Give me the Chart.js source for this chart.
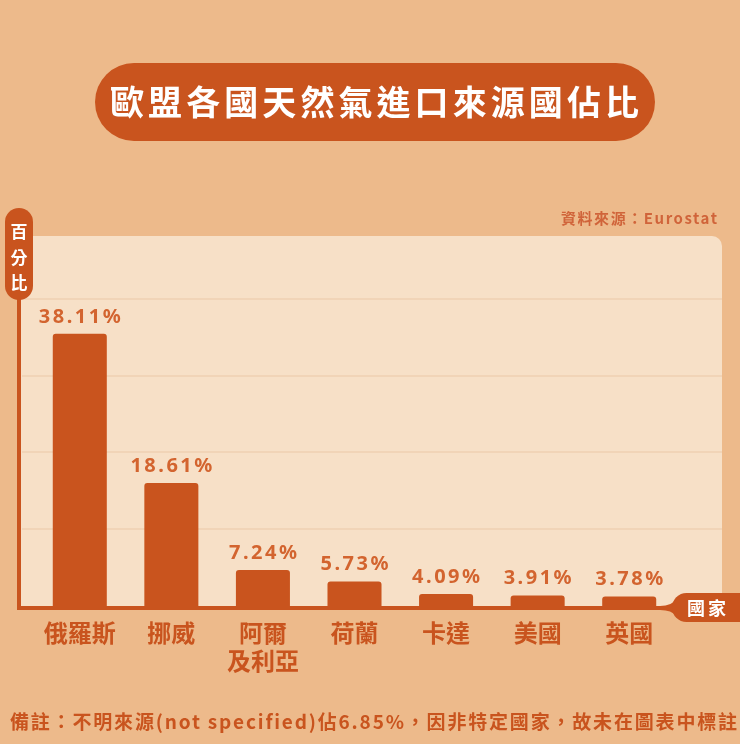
<!DOCTYPE html>
<html>
<head>
<meta charset="utf-8">
<script src="https://cdn.jsdelivr.net/npm/chart.js@4.4.1/dist/chart.umd.min.js"></script>
<style>
  html, body { margin: 0; padding: 0; background: #EDBA8B; }
  canvas { display: block; }
</style>
</head>
<body>
<canvas id="chart" width="740" height="744"></canvas>
<script>
// data
const countries = ['俄羅斯', '挪威', ['阿爾', '及利亞'], '荷蘭', '卡達', '美國', '英國'];
const shares = [38.11, 18.61, 7.24, 5.73, 4.09, 3.91, 3.78];
const gridValues = [12.6, 22.6, 32.6, 42.6];

const TITLE = '歐盟各國天然氣進口來源國佔比';
const SOURCE = '資料來源：Eurostat';
const NOTE = '備註：不明來源(not specified)佔6.85%，因非特定國家，故未在圖表中標註';
const Y_TITLE = ['百', '分', '比'];
const X_TITLE = '國家';

const COLORS = {
  bg: '#EDBA8B',
  panel: '#F7E0C7',
  grid: 'rgba(228,186,146,0.3)',
  bar: '#C9541E',
  value: '#D3642F',
  label: '#C9541E',
  source: '#D0643A',
  white: '#FFFFFF'
};

const CJK = '"Noto Sans CJK TC", "Noto Sans", sans-serif';

function fitText(ctx, text, x, y, width) {
  ctx.letterSpacing = '0px';
  const w = ctx.measureText(text).width;
  const n = [...text].length;
  const sp = (width - w) / (n - 1);
  ctx.letterSpacing = sp + 'px';
  ctx.fillText(text, x, y);
  ctx.letterSpacing = '0px';
}

const decor = {
  id: 'decor',
  beforeDraw(chart) {
    const ctx = chart.ctx;
    ctx.save();
    ctx.fillStyle = COLORS.bg;
    ctx.fillRect(0, 0, chart.width, chart.height);

    // title pill
    ctx.fillStyle = COLORS.bar;
    ctx.beginPath();
    ctx.roundRect(95, 63, 560, 78, 39);
    ctx.fill();
    ctx.fillStyle = COLORS.white;
    ctx.font = 'bold 34px ' + CJK;
    ctx.textBaseline = 'middle';
    ctx.textAlign = 'left';
    fitText(ctx, TITLE, 110, 102, 529);

    // source
    ctx.fillStyle = COLORS.source;
    ctx.font = 'bold 15px ' + CJK;
    fitText(ctx, SOURCE, 561, 218, 156);

    // plot panel
    ctx.fillStyle = COLORS.panel;
    ctx.beginPath();
    ctx.roundRect(20, 236, 702, 372, [0, 10, 0, 0]);
    ctx.fill();

    // footnote
    ctx.fillStyle = COLORS.label;
    ctx.font = 'bold 19px ' + CJK;
    fitText(ctx, NOTE, 10, 722, 727);
    ctx.restore();
  },
  beforeDatasetsDraw(chart) {
    const ctx = chart.ctx;
    const y = chart.scales.y;
    ctx.save();
    ctx.strokeStyle = COLORS.grid;
    ctx.lineWidth = 2;
    for (const t of y.ticks) {
      const py = Math.round(y.getPixelForValue(t.value));
      ctx.beginPath();
      ctx.moveTo(22, py);
      ctx.lineTo(722, py);
      ctx.stroke();
    }
    ctx.restore();
  },
  afterDatasetsDraw(chart) {
    const ctx = chart.ctx;
    const meta = chart.getDatasetMeta(0);
    ctx.save();

    // value labels
    ctx.fillStyle = COLORS.value;
    ctx.font = 'bold 20px "Noto Sans", sans-serif';
    ctx.textAlign = 'center';
    ctx.textBaseline = 'middle';
    ctx.letterSpacing = '2.5px';
    meta.data.forEach((bar, i) => {
      ctx.fillText(shares[i].toFixed(2) + '%', bar.x + 1.25, bar.y - 17);
    });
    ctx.letterSpacing = '0px';

    // axes
    const bottom = chart.chartArea.bottom;
    ctx.fillStyle = COLORS.bar;
    ctx.fillRect(17, 296, 4, bottom - 296 + 3);
    ctx.fillRect(17, bottom - 1, 672, 4);

    // y title pill
    ctx.beginPath();
    ctx.roundRect(5, 208, 28, 92, 14);
    ctx.fill();
    // x title pill, with a small flare into the axis line
    ctx.beginPath();
    ctx.moveTo(660, bottom - 1);
    ctx.quadraticCurveTo(672, bottom - 1, 676, bottom - 8);
    ctx.lineTo(676, bottom + 9);
    ctx.quadraticCurveTo(672, bottom + 3, 660, bottom + 3);
    ctx.closePath();
    ctx.fill();
    ctx.beginPath();
    ctx.roundRect(672, bottom - 14, 90, 29, 14.5);
    ctx.fill();

    ctx.fillStyle = COLORS.white;
    ctx.font = 'bold 17px ' + CJK;
    Y_TITLE.forEach((ch, i) => ctx.fillText(ch, 19, 232 + i * 25.5));
    ctx.textAlign = 'left';
    ctx.letterSpacing = '3px';
    ctx.font = 'bold 18px ' + CJK;
    ctx.fillText(X_TITLE, 687, bottom + 1);
    ctx.restore();
  }
};

new Chart(document.getElementById('chart'), {
  type: 'bar',
  data: {
    labels: countries,
    datasets: [{
      data: shares,
      backgroundColor: COLORS.bar,
      borderWidth: 0,
      borderRadius: { topLeft: 3, topRight: 3 },
      borderSkipped: 'bottom',
      barPercentage: 0.59,
      categoryPercentage: 1
    }]
  },
  options: {
    responsive: false,
    animation: false,
    layout: { padding: { left: 34, right: 65, top: 236, bottom: 0 } },
    plugins: {
      legend: { display: false },
      tooltip: { enabled: false }
    },
    scales: {
      x: {
        grid: { display: false },
        border: { display: false },
        ticks: {
          color: COLORS.label,
          font: { family: CJK, size: 24, weight: 'bold', lineHeight: 1.2 },
          padding: 3,
          maxRotation: 0,
          autoSkip: false
        },
        afterFit: (scale) => { scale.height = 137; }
      },
      y: {
        display: false,
        min: 2.4,
        max: 50.9,
        afterBuildTicks: (scale) => {
          scale.ticks = gridValues.map(v => ({ value: v }));
        }
      }
    }
  },
  plugins: [decor]
});
</script>
</body>
</html>
